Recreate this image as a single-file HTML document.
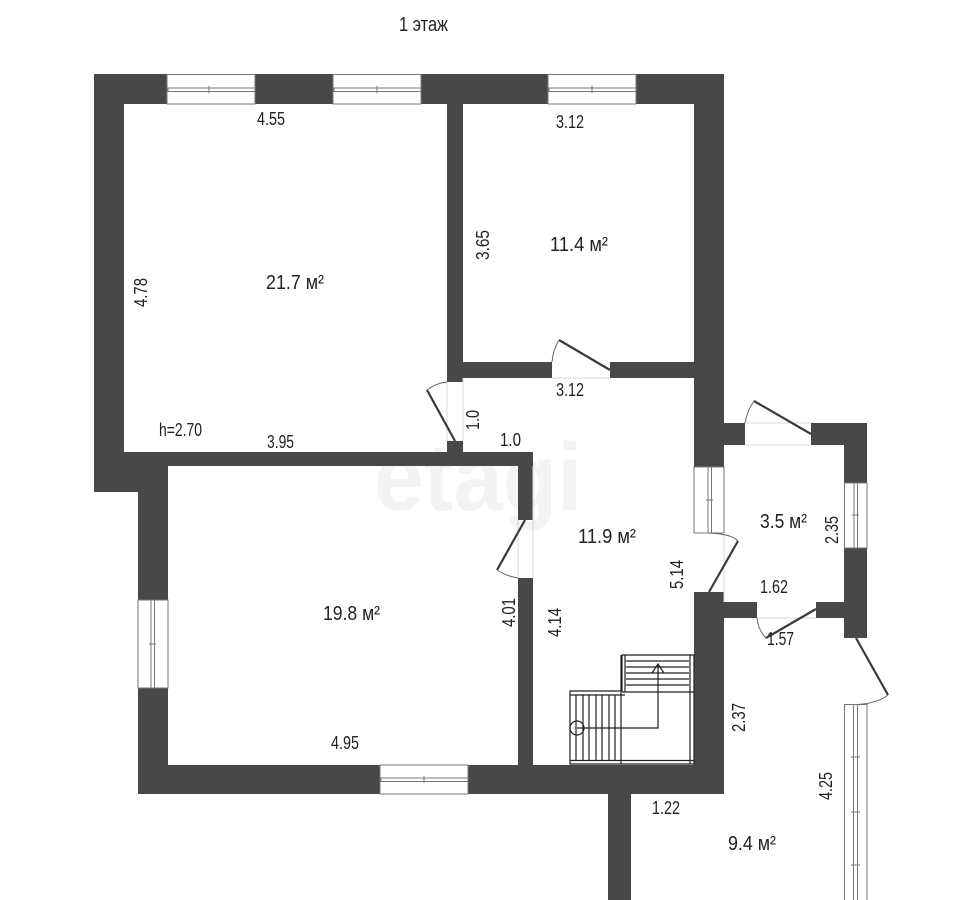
<!DOCTYPE html>
<html><head><meta charset="utf-8">
<style>
html,body{margin:0;padding:0;background:#fff;width:960px;height:900px;overflow:hidden}
svg{display:block}
text{font-family:"Liberation Sans",sans-serif;font-size:18.5px;fill:#222}
</style></head><body>
<svg width="960" height="900" viewBox="0 0 960 900" xmlns="http://www.w3.org/2000/svg">
<text x="478" y="510" style="font-size:96px;font-weight:bold;fill:#f3f3f3" text-anchor="middle" textLength="208" lengthAdjust="spacingAndGlyphs">etagi</text>

<g fill="#484848">
<rect x="94" y="74" width="630" height="30"/>
<rect x="94" y="74" width="30" height="418"/>
<rect x="94" y="452" width="74" height="40"/>
<rect x="138" y="452" width="30" height="342"/>
<rect x="138" y="452" width="395" height="14"/>
<rect x="138" y="765" width="586" height="29"/>
<rect x="694" y="74" width="30" height="393"/>
<rect x="694" y="592" width="30" height="202"/>
<rect x="447" y="104" width="16" height="278"/>
<rect x="463" y="362" width="89" height="16"/>
<rect x="610" y="362" width="84" height="16"/>
<rect x="447" y="441" width="16" height="25"/>
<rect x="518" y="452" width="15" height="68"/>
<rect x="518" y="578" width="15" height="187"/>
<rect x="724" y="423" width="21" height="22"/>
<rect x="811" y="423" width="56" height="22"/>
<rect x="844" y="423" width="23" height="60"/>
<rect x="844" y="548" width="23" height="90"/>
<rect x="724" y="602" width="33" height="16"/>
<rect x="816" y="602" width="28" height="16"/>
<rect x="608" y="794" width="23" height="106"/>
</g>

<!-- horizontal windows -->
<g fill="#fff" stroke="#777" stroke-width="1">
<rect x="167" y="74.5" width="88" height="29.5"/>
<rect x="333" y="74.5" width="88" height="29.5"/>
<rect x="548" y="74.5" width="88" height="29.5"/>
<rect x="380" y="765" width="88" height="29"/>
<rect x="168" y="88" width="87" height="3.5"/>
<rect x="334" y="88" width="87" height="3.5"/>
<rect x="549" y="88" width="87" height="3.5"/>
<rect x="381" y="778" width="87" height="3.5"/>
</g>
<!-- vertical windows -->
<g fill="#fff" stroke="#777" stroke-width="1">
<rect x="138" y="600" width="30" height="88"/>
<rect x="694" y="467" width="30" height="66"/>
<rect x="844.5" y="483" width="22.5" height="65"/>
<rect x="844.5" y="704.5" width="22.5" height="200"/>
<rect x="151" y="600" width="3.5" height="88"/>
<rect x="708" y="467" width="3.5" height="66"/>
<rect x="854" y="483" width="3.5" height="65"/>
<rect x="853.5" y="704.5" width="4" height="200"/>
</g>
<g stroke="#777" stroke-width="1" fill="none">
<path d="M209 86v7M377 86v7M592 86v7M424 776v7M149 644h7M706 500h7M852 515h7M851 757h9M851 812h9M851 865h9"/>
</g>

<!-- door openings -->
<g stroke="#d8d8d8" stroke-width="1" fill="none">
<path d="M447 382v59M463 378v63M518 520v58M533 466v112M552 378h58M745 423h66M745 445h66M724 533v69M757 618h59"/>
</g>
<!-- door leaves -->
<g stroke="#3a3a3a" stroke-width="2.2" fill="none">
<path d="M455 441L427 390"/>
<path d="M525 520L497 570"/>
<path d="M610 370L559 340"/>
<path d="M811 434L754 401"/>
<path d="M709 592L738 541"/>
<path d="M816 609L766 638"/>
<path d="M856 638L888 695"/>
</g>
<g stroke="#666" stroke-width="1" fill="none">
<path d="M427 390Q436 383 447 382"/>
<path d="M497 570Q506 576 518 578"/>
<path d="M559 340Q553 350 552 362"/>
<path d="M754 401Q747 411 745 423"/>
<path d="M738 541Q732 534 709 533"/>
<path d="M766 638Q758 630 757 618"/>
<path d="M888 695Q878 703 858 704.5"/>
</g>

<!-- stairs -->
<g stroke="#222" stroke-width="1.2" fill="none">
<path d="M570 764V691H622V655H694V764Z"/>
<path d="M570 760.500H694M570 695H622M622 692H694"/>
<path d="M621 655V764M625 655V692M621 695H625M690 655V764"/>
<path d="M626 661H689M626 667H689M626 673H689M626 679H689M626 685H689"/>
<path d="M576 695V761M583 695V761M589 695V761M596 695V761M602 695V761M609 695V761M615 695V761"/>
<path d="M577 728H658V664M652 673L658 664L664 673"/>
<circle cx="577" cy="728" r="7"/>
</g>

<text x="399" y="31" style="font-size:20px" textLength="49" lengthAdjust="spacingAndGlyphs">1 этаж</text>
<text x="257" y="125" textLength="28" lengthAdjust="spacingAndGlyphs">4.55</text>
<text x="556" y="128" textLength="28" lengthAdjust="spacingAndGlyphs">3.12</text>
<text x="266" y="289" style="font-size:20px" textLength="58" lengthAdjust="spacingAndGlyphs">21.7 м²</text>
<text x="550" y="251" style="font-size:20px" textLength="58" lengthAdjust="spacingAndGlyphs">11.4 м²</text>
<text x="556" y="396" textLength="28" lengthAdjust="spacingAndGlyphs">3.12</text>
<text x="500" y="446" textLength="21" lengthAdjust="spacingAndGlyphs">1.0</text>
<text x="159" y="436" textLength="43" lengthAdjust="spacingAndGlyphs">h=2.70</text>
<text x="267" y="448" textLength="27" lengthAdjust="spacingAndGlyphs">3.95</text>
<text x="578" y="543" style="font-size:20px" textLength="58" lengthAdjust="spacingAndGlyphs">11.9 м²</text>
<text x="323" y="620" style="font-size:20px" textLength="57" lengthAdjust="spacingAndGlyphs">19.8 м²</text>
<text x="760" y="528" style="font-size:20px" textLength="47" lengthAdjust="spacingAndGlyphs">3.5 м²</text>
<text x="760" y="593" textLength="28" lengthAdjust="spacingAndGlyphs">1.62</text>
<text x="767" y="645" textLength="27" lengthAdjust="spacingAndGlyphs">1.57</text>
<text x="331" y="749" textLength="28" lengthAdjust="spacingAndGlyphs">4.95</text>
<text x="652" y="814" textLength="28" lengthAdjust="spacingAndGlyphs">1.22</text>
<text x="728" y="850" style="font-size:20px" textLength="48" lengthAdjust="spacingAndGlyphs">9.4 м²</text>

<text transform="translate(147,307) rotate(-90)" textLength="29" lengthAdjust="spacingAndGlyphs">4.78</text>
<text transform="translate(489,260) rotate(-90)" textLength="30" lengthAdjust="spacingAndGlyphs">3.65</text>
<text transform="translate(479,430) rotate(-90)" textLength="20" lengthAdjust="spacingAndGlyphs">1.0</text>
<text transform="translate(515,627) rotate(-90)" textLength="29" lengthAdjust="spacingAndGlyphs">4.01</text>
<text transform="translate(561,637) rotate(-90)" textLength="29" lengthAdjust="spacingAndGlyphs">4.14</text>
<text transform="translate(683,589) rotate(-90)" textLength="29" lengthAdjust="spacingAndGlyphs">5.14</text>
<text transform="translate(838,544) rotate(-90)" textLength="28" lengthAdjust="spacingAndGlyphs">2.35</text>
<text transform="translate(745,732) rotate(-90)" textLength="29" lengthAdjust="spacingAndGlyphs">2.37</text>
<text transform="translate(832,800) rotate(-90)" textLength="28" lengthAdjust="spacingAndGlyphs">4.25</text>
</svg>
</body></html>
